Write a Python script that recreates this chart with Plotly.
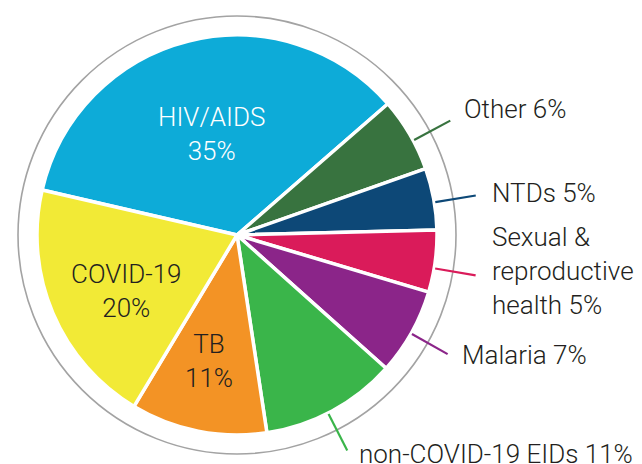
import math
import plotly.graph_objects as go

# ---- data ----
categories = ["HIV/AIDS", "Other", "NTDs", "Sexual & reproductive health",
              "Malaria", "non-COVID-19 EIDs", "TB", "COVID-19"]
shares = [35, 6, 5, 5, 7, 11, 11, 20]
label_texts = ["HIV/AIDS<br>35%", "Other 6%", "NTDs 5%",
               "Sexual &<br>reproductive<br>health 5%", "Malaria 7%",
               "non-COVID-19 EIDs 11%", "TB<br>11%", "COVID-19<br>20%"]

# ---- style ----
colors = ["#0DABD8", "#38733F", "#0D4877", "#DA1B5A",
          "#8B2589", "#3AB54A", "#F39325", "#F2EA36"]
# angle tweak (deg), radius fraction, text colour, dy (px)
inside = {"HIV/AIDS": (0.0, 0.52, "white", 0),
          "COVID-19": (-2.5, 0.61, "#231F20", 3),
          "TB": (1.3, 0.65, "#231F20", -1)}
# angle tweak (deg), text dx, text dy (px)
outside = {"Other": (2.0, 12, -12), "NTDs": (1.0, 14, -2),
           "Sexual & reproductive health": (2.0, 14, -4),
           "Malaria": (0.3, 12, 1), "non-COVID-19 EIDs": (1.3, 10, 4)}

W, H = 642, 464
CX, CY, R = 237, 235, 200
ROT = 283.0
FONT = "Roboto, Arial, sans-serif"
WEIGHT = 300


def px2paper(px, py):
    return px / W, 1 - py / H


def polar(angle_deg, r):
    a = math.radians(angle_deg)
    return CX + r * math.sin(a), CY - r * math.cos(a)


fig = go.Figure(go.Pie(
    labels=categories, values=shares, sort=False, direction="clockwise",
    rotation=ROT, textinfo="none", hoverinfo="label+percent",
    marker=dict(colors=colors, line=dict(color="white", width=3.5)),
    domain=dict(x=[(CX - R) / W, (CX + R) / W],
                y=[1 - (CY + R) / H, 1 - (CY - R) / H]),
    showlegend=False,
))

total = sum(shares)
cum = 0.0
annotations = []
shapes = []
for cat, val, txt, col in zip(categories, shares, label_texts, colors):
    mid = ROT + (cum + val / 2) / total * 360
    cum += val
    if cat in inside:
        tweak, rf, fc, dy = inside[cat]
        px, py = polar(mid + tweak, R * rf)
        x, y = px2paper(px, py + dy)
        annotations.append(dict(x=x, y=y, xref="paper", yref="paper",
                                text=txt, showarrow=False, xanchor="center",
                                yanchor="middle", align="center",
                                font=dict(family=FONT, size=26, color=fc,
                                          weight=WEIGHT)))
    else:
        tweak, tdx, tdy = outside[cat]
        ang = mid + tweak
        x0, y0 = px2paper(*polar(ang, R + 1))
        ex, ey = polar(ang, 242)
        x1, y1 = px2paper(ex, ey)
        shapes.append(dict(type="line", xref="paper", yref="paper",
                           x0=x0, y0=y0, x1=x1, y1=y1,
                           line=dict(color=col, width=2.2)))
        tx, ty = px2paper(ex + tdx, ey + tdy)
        annotations.append(dict(x=tx, y=ty, xref="paper", yref="paper",
                                text=txt, showarrow=False, xanchor="left",
                                yanchor="middle", align="left",
                                font=dict(family=FONT, size=26, color="#231F20",
                                          weight=WEIGHT)))

RING = 219
rx0, ry0 = px2paper(CX - RING, CY - RING)
rx1, ry1 = px2paper(CX + RING, CY + RING)
shapes.append(dict(type="circle", xref="paper", yref="paper", layer="below",
                   x0=rx0, y0=ry1, x1=rx1, y1=ry0,
                   line=dict(color="#A3A3A3", width=1.6)))

fig.update_layout(width=W, height=H, margin=dict(l=0, r=0, t=0, b=0),
                  paper_bgcolor="white", plot_bgcolor="white",
                  annotations=annotations, shapes=shapes)

fig.write_html("out.html", config={"displayModeBar": False},
               post_script="document.body.style.margin='0';"
                           "document.body.style.overflow='hidden';")
